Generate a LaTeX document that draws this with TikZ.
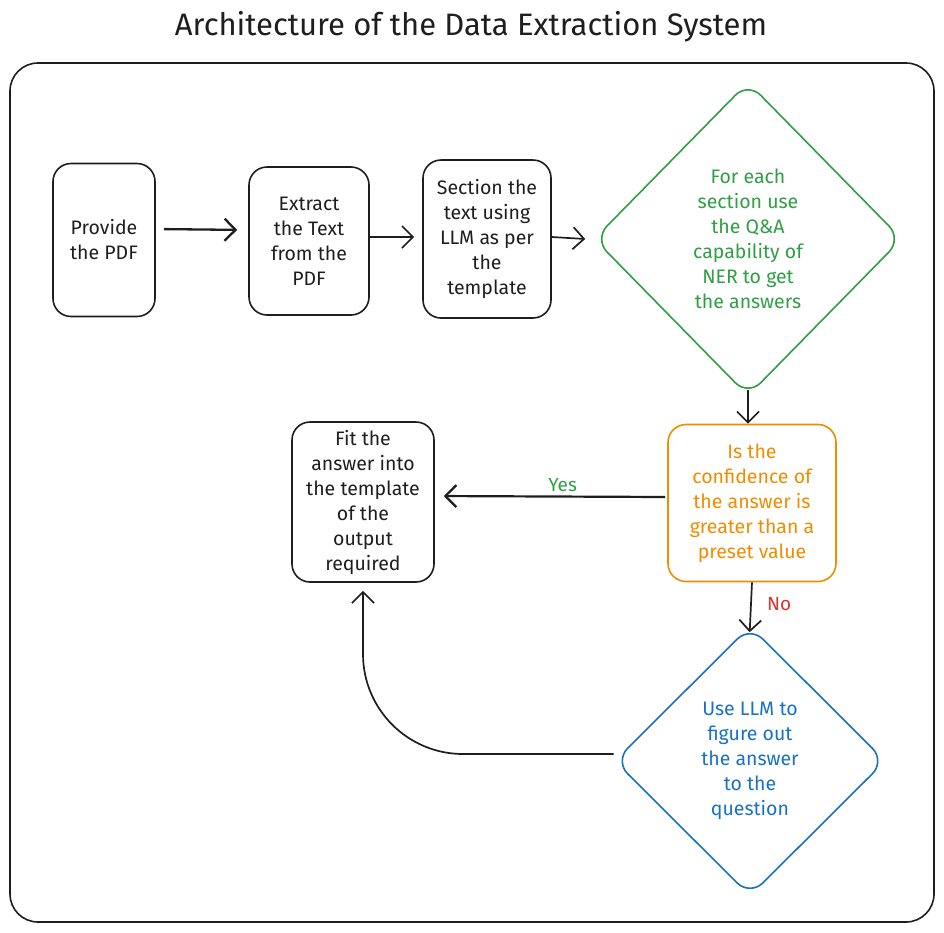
\documentclass[tikz,border=0pt]{standalone}
\usepackage{fontspec}
\setmainfont{Fira Sans}
\usetikzlibrary{shapes.geometric,arrows.meta}
\definecolor{inkblack}{HTML}{1E1E1E}
\definecolor{stepgreen}{HTML}{2F9E44}
\definecolor{steporange}{HTML}{F08C00}
\definecolor{stepblue}{HTML}{1971C2}
\definecolor{stepred}{HTML}{E03131}
\tikzset{
  stepbox/.style={draw=inkblack,line width=1.6pt,rounded corners=18pt,align=center,
    text=inkblack,inner sep=2pt,font=\fontsize{19.5}{25}\selectfont},
  decision/.style={diamond,draw,line width=1.6pt,rounded corners=18pt,align=center,
    inner sep=0pt,font=\fontsize{19.5}{25}\selectfont},
  conn/.style={-{Straight Barb[length=11pt,width=22pt]},line width=1.7pt,draw=inkblack},
  edgetext/.style={font=\fontsize{19}{22}\selectfont}
}
\begin{document}
\begin{tikzpicture}[x=1pt,y=-1pt]
  \useasboundingbox (0,0) rectangle (944,932);
  % title and frame
  \node[text=inkblack,font=\fontsize{31}{36}\selectfont] (title) at (471,27) {Architecture of the Data Extraction System};
  \draw[inkblack,line width=1.6pt,rounded corners=28pt] (10,63) rectangle (934,922);
  % steps
  \node[stepbox,minimum width=102pt,minimum height=153pt] (prov) at (104,240) {Provide\\the PDF};
  \node[stepbox,minimum width=120pt,minimum height=148pt] (extr) at (309,241) {Extract\\the Text\\from the\\PDF};
  \node[stepbox,minimum width=128pt,minimum height=158pt] (sect) at (487,239) {Section the\\text using\\LLM as per\\the\\template};
  \node[decision,draw=stepgreen,text=stepgreen,minimum width=308pt,minimum height=314pt] (ner) at (748,239)
    {For each\\section use\\the Q\&A\\capability of\\NER to get\\the answers};
  \node[stepbox,draw=steporange,text=steporange,minimum width=168pt,minimum height=157pt] (conf) at (752,503)
    {Is the\\confidence of\\the answer is\\greater than a\\preset value};
  \node[stepbox,minimum width=142pt,minimum height=160pt] (fit) at (363,502)
    {Fit the\\answer into\\the template\\of the\\output\\required};
  \node[decision,draw=stepblue,text=stepblue,minimum width=271pt,minimum height=270pt] (llm) at (750,761)
    {Use LLM to\\figure out\\the answer\\to the\\question};
  % connectors
  \draw[conn,line width=2.3pt,shorten <=8pt,shorten >=11pt] ([yshift=11pt]prov.east) -- ([yshift=11pt]extr.west);
  \draw[conn,shorten >=8pt] ([yshift=4pt]extr.east) -- ([yshift=2pt]sect.west);
  \draw[conn] ([yshift=2pt]sect.east) -- ([xshift=-8pt]ner.west);
  \draw[conn,shorten <=-7pt] (ner.south) -- (ner.south |- conf.north);
  \draw[conn,line width=2.2pt,shorten <=2pt,shorten >=9pt] ([yshift=6pt]conf.west) -- node[edgetext,text=stepgreen,above,pos=0.45] (yes) {Yes} ([yshift=6pt]fit.east);
  \draw[conn,shorten >=-7pt] (conf.south) -- node[edgetext,text=stepred,right=12pt] (no) {No} (llm.north);
  \draw[conn,rounded corners=100pt,shorten >=8pt] ([yshift=7pt]llm.west) -| (fit.south);
\end{tikzpicture}
\end{document}
